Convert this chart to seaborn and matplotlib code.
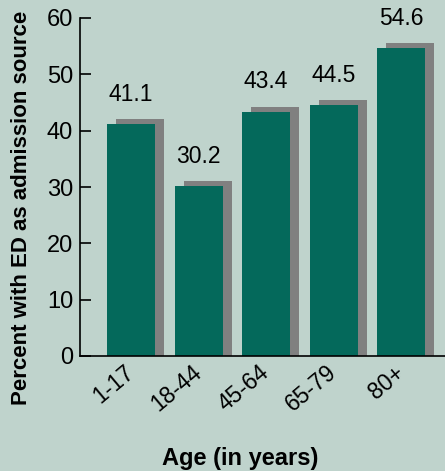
import matplotlib
matplotlib.use("Agg")
import matplotlib.pyplot as plt
import matplotlib.transforms as mtransforms
import seaborn as sns
import pandas as pd

categories = ["1-17", "18-44", "45-64", "65-79", "80+"]
values = [41.1, 30.2, 43.4, 44.5, 54.6]
value_labels = ["41.1", "30.2", "43.4", "44.5", "54.6"]
yticks = [0, 10, 20, 30, 40, 50, 60]

BG = "#bfd3cc"
BAR = "#04695b"
SHADOW = "#808080"

sns.set_theme(style="white")
plt.rcParams["font.family"] = ["Liberation Sans", "DejaVu Sans"]
plt.rcParams["text.color"] = "black"
plt.rcParams["xtick.color"] = "black"
plt.rcParams["ytick.color"] = "black"
plt.rcParams["axes.labelcolor"] = "black"

df = pd.DataFrame({"age": categories, "pct": values})

fig = plt.figure(figsize=(4.45, 4.71), dpi=100, facecolor=BG)
ax = fig.add_axes([80 / 445, 1 - 356 / 471, 1 - 80 / 445, (356 - 18) / 471])
ax.set_facecolor(BG)

# shadow bars
sns.barplot(data=df, x="age", y="pct", color=SHADOW, saturation=1, width=0.71,
            ax=ax, zorder=1)
shadow_tr = mtransforms.offset_copy(ax.transData, fig=fig, x=9, y=5, units="dots")
for p in ax.patches:
    p.set_transform(shadow_tr)
    p.set_y(-2)
    p.set_height(p.get_height() + 2)
    p.set_edgecolor("none")
n_shadow = len(ax.patches)

# main bars
sns.barplot(data=df, x="age", y="pct", color=BAR, saturation=1, width=0.71,
            ax=ax, zorder=2)
for p in ax.patches[n_shadow:]:
    p.set_edgecolor("none")

for i, (v, lab) in enumerate(zip(values, value_labels)):
    ax.annotate(lab, xy=(i, v), xytext=(0, 13), textcoords="offset points",
                ha="center", va="bottom", fontsize=16.5, color="black", zorder=3)

ax.set_ylim(0, 60)
ax.set_xlim(-0.756, 4.65)
ax.set_yticks(yticks)
ax.set_yticklabels([str(t) for t in yticks], fontsize=17, color="black")

ax.set_xticks(range(len(categories)))
ax.set_xticklabels(categories, fontsize=16.5, rotation=40, ha="right", va="center",
                   rotation_mode="anchor", color="black")
for lab in ax.get_xticklabels():
    lab.set_transform(lab.get_transform() + mtransforms.ScaledTranslation(10 / 100, -3 / 100, fig.dpi_scale_trans))

ax.tick_params(axis="y", direction="in", length=8, width=1.2, color="black", pad=5, left=True)
ax.tick_params(axis="x", length=0, pad=10)

for s in ["top", "right"]:
    ax.spines[s].set_visible(False)
for s in ["left", "bottom"]:
    ax.spines[s].set_visible(True)
    ax.spines[s].set_color("black")
    ax.spines[s].set_linewidth(1.2)

ax.set_xlabel("")
ax.set_ylabel("")
fig.text(22 / 445, 1 - 208 / 471, "Percent with ED as admission source", rotation=90,
         ha="center", va="center", fontsize=16, fontweight="bold", color="black")
fig.text(240 / 445, 1 - 458 / 471, "Age (in years)", ha="center", va="center",
         fontsize=17, fontweight="bold", color="black")

fig.savefig("out.png", dpi=100, facecolor=BG)
